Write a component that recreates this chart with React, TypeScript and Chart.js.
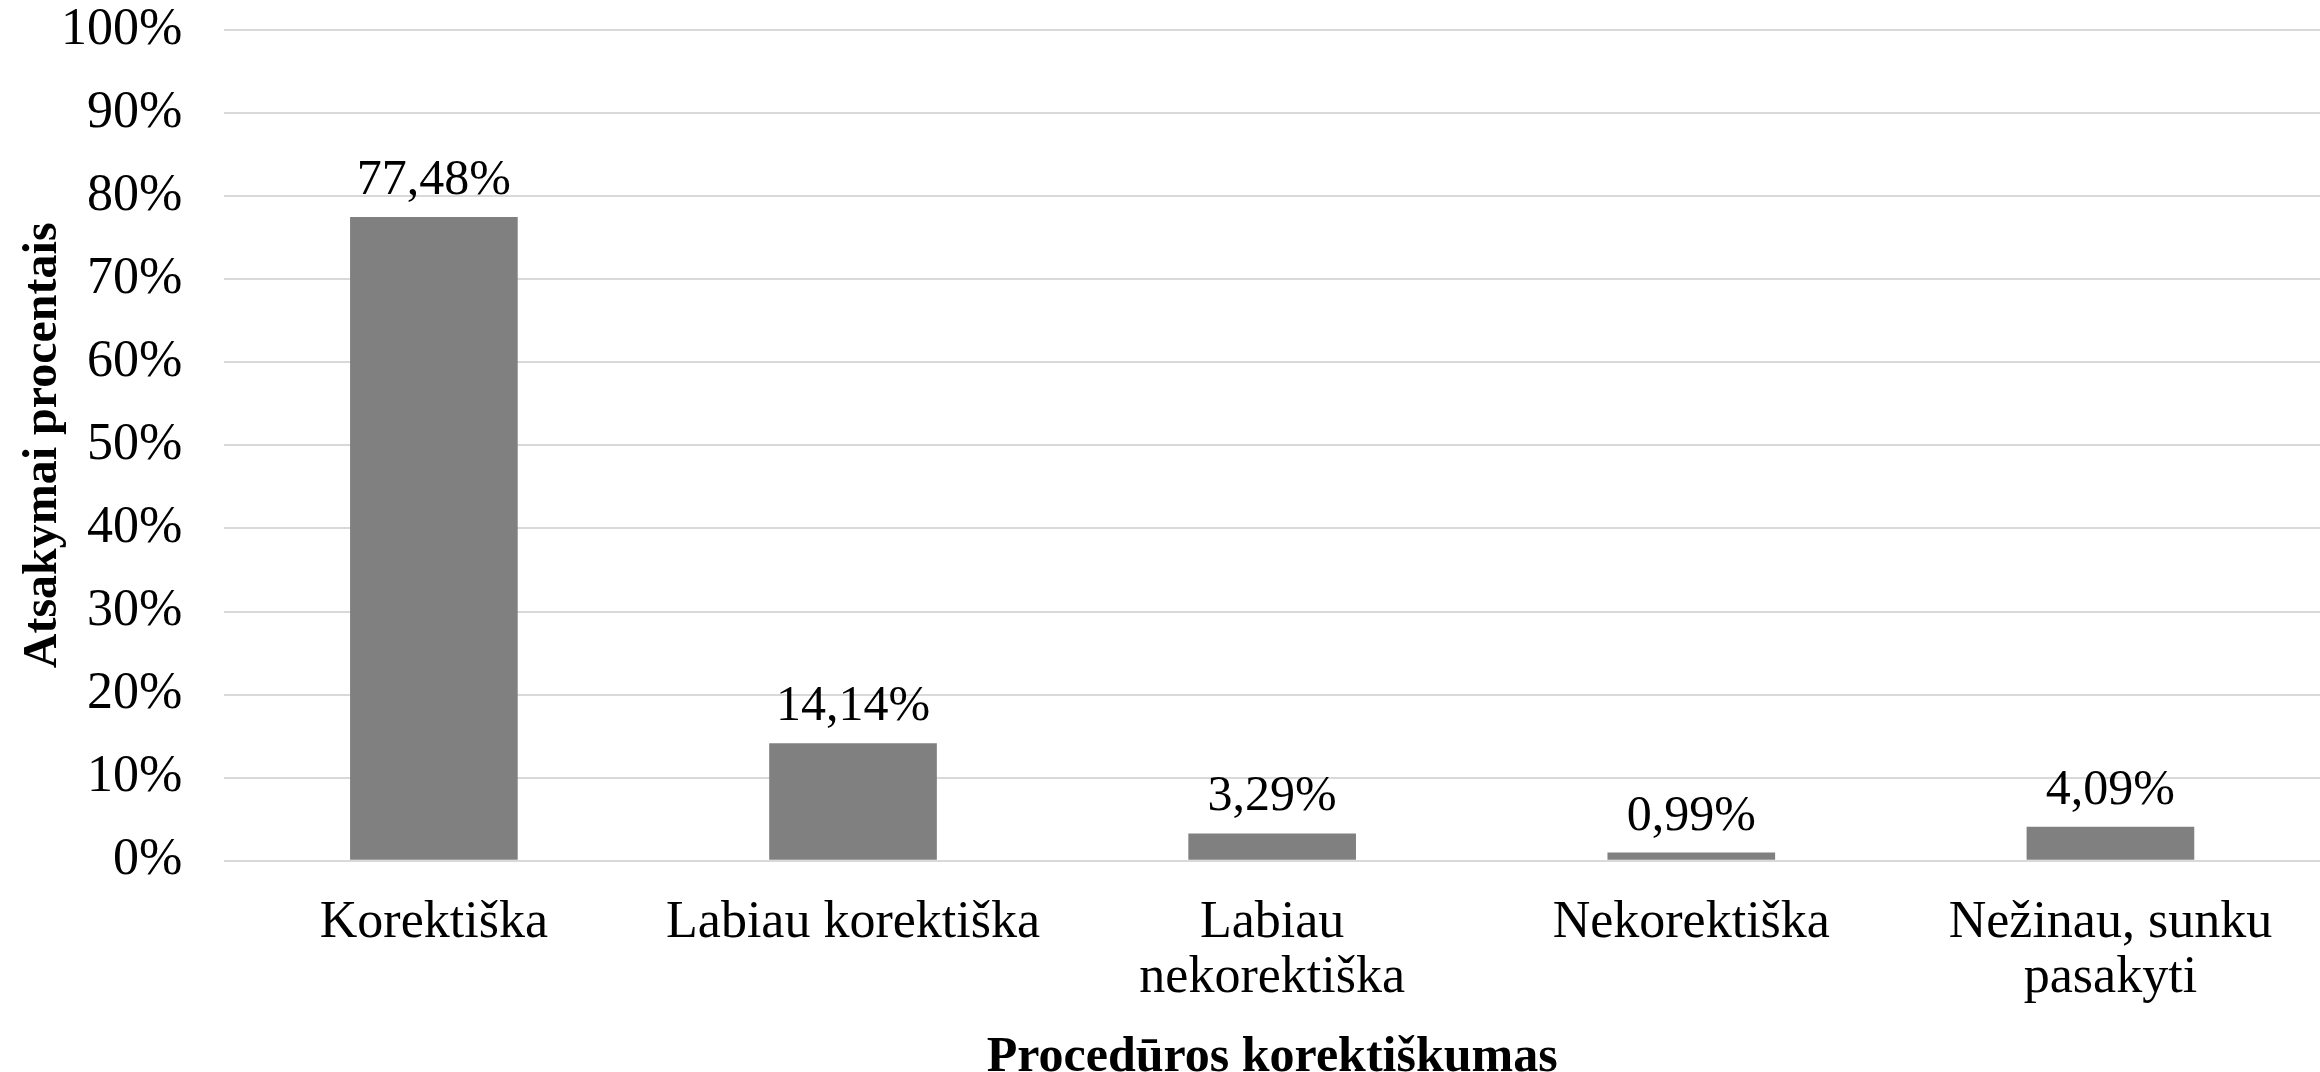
import React, { useEffect, useRef } from "react";
import { Chart, registerables } from "chart.js";

Chart.register(...registerables);

const categories: string[][] = [
  ["Korektiška"],
  ["Labiau korektiška"],
  ["Labiau", "nekorektiška"],
  ["Nekorektiška"],
  ["Nežinau, sunku", "pasakyti"],
];
const values: number[] = [77.48, 14.14, 3.29, 0.99, 4.09];
const yMin = 0;
const yMax = 100;
const yStep = 10;
const xTitle = "Procedūros korektiškumas";
const yTitle = "Atsakymai procentais";

const FONT = "'Liberation Serif', 'Times New Roman', serif";

const fmt = (v: number) => v.toFixed(2).replace(".", ",") + "%";

const valueLabels = {
  id: "valueLabels",
  afterDatasetsDraw(chart: any) {
    const ctx = chart.ctx;
    const meta = chart.getDatasetMeta(0);
    ctx.save();
    ctx.font = `50px ${FONT}`;
    ctx.fillStyle = "#000000";
    ctx.textAlign = "center";
    ctx.textBaseline = "alphabetic";
    meta.data.forEach((el: any, i: number) => {
      ctx.fillText(fmt(values[i]), el.x, el.y - 23);
    });
    ctx.restore();
  },
};

export default function App() {
  const ref = useRef<HTMLCanvasElement | null>(null);

  useEffect(() => {
    document.body.style.margin = "0";
    const canvas = ref.current;
    if (!canvas) return;
    const chart = new Chart(canvas, {
      type: "bar",
      data: {
        labels: categories,
        datasets: [
          {
            data: values,
            backgroundColor: "#808080",
            borderWidth: 0,
            categoryPercentage: 0.8,
            barPercentage: 0.5,
          },
        ],
      },
      options: {
        responsive: false,
        animation: false,
        devicePixelRatio: 1,
        layout: { autoPadding: false, padding: { top: 0, right: 0, bottom: -11, left: 20 } },
        plugins: {
          legend: { display: false },
          tooltip: { enabled: false },
        },
        scales: {
          x: {
            grid: { display: false, drawTicks: false },
            border: { display: false },
            ticks: {
              color: "#000000",
              font: { family: FONT, size: 52, lineHeight: 1.06 },
              padding: 35,
              maxRotation: 0,
              autoSkip: false,
            },
            title: {
              display: true,
              text: xTitle,
              color: "#000000",
              font: { family: FONT, size: 50, weight: "bold", lineHeight: 1.0 },
              padding: { top: -8, bottom: 0 },
            },
          },
          y: {
            min: yMin,
            max: yMax,
            grid: {
              color: "#d9d9d9",
              lineWidth: 2,
              drawTicks: true,
              tickLength: 42,
              tickColor: "rgba(0,0,0,0)",
            },
            border: { display: false },
            ticks: {
              stepSize: yStep,
              color: "#000000",
              font: { family: FONT, size: 52, lineHeight: 1.15 },
              padding: 0,
              callback: (v: any) => `${v}%`,
            },
            title: {
              display: true,
              text: yTitle,
              color: "#000000",
              font: { family: FONT, size: 48, weight: "bold", lineHeight: 1.0 },
              padding: { top: 0, bottom: -7 },
            },
          },
        },
      },
      plugins: [valueLabels],
    });
    return () => chart.destroy();
  }, []);

  return (
    <div style={{ width: 2320, height: 1072 }}>
      <canvas ref={ref} width={2320} height={1072} style={{ display: "block" }} />
    </div>
  );
}
